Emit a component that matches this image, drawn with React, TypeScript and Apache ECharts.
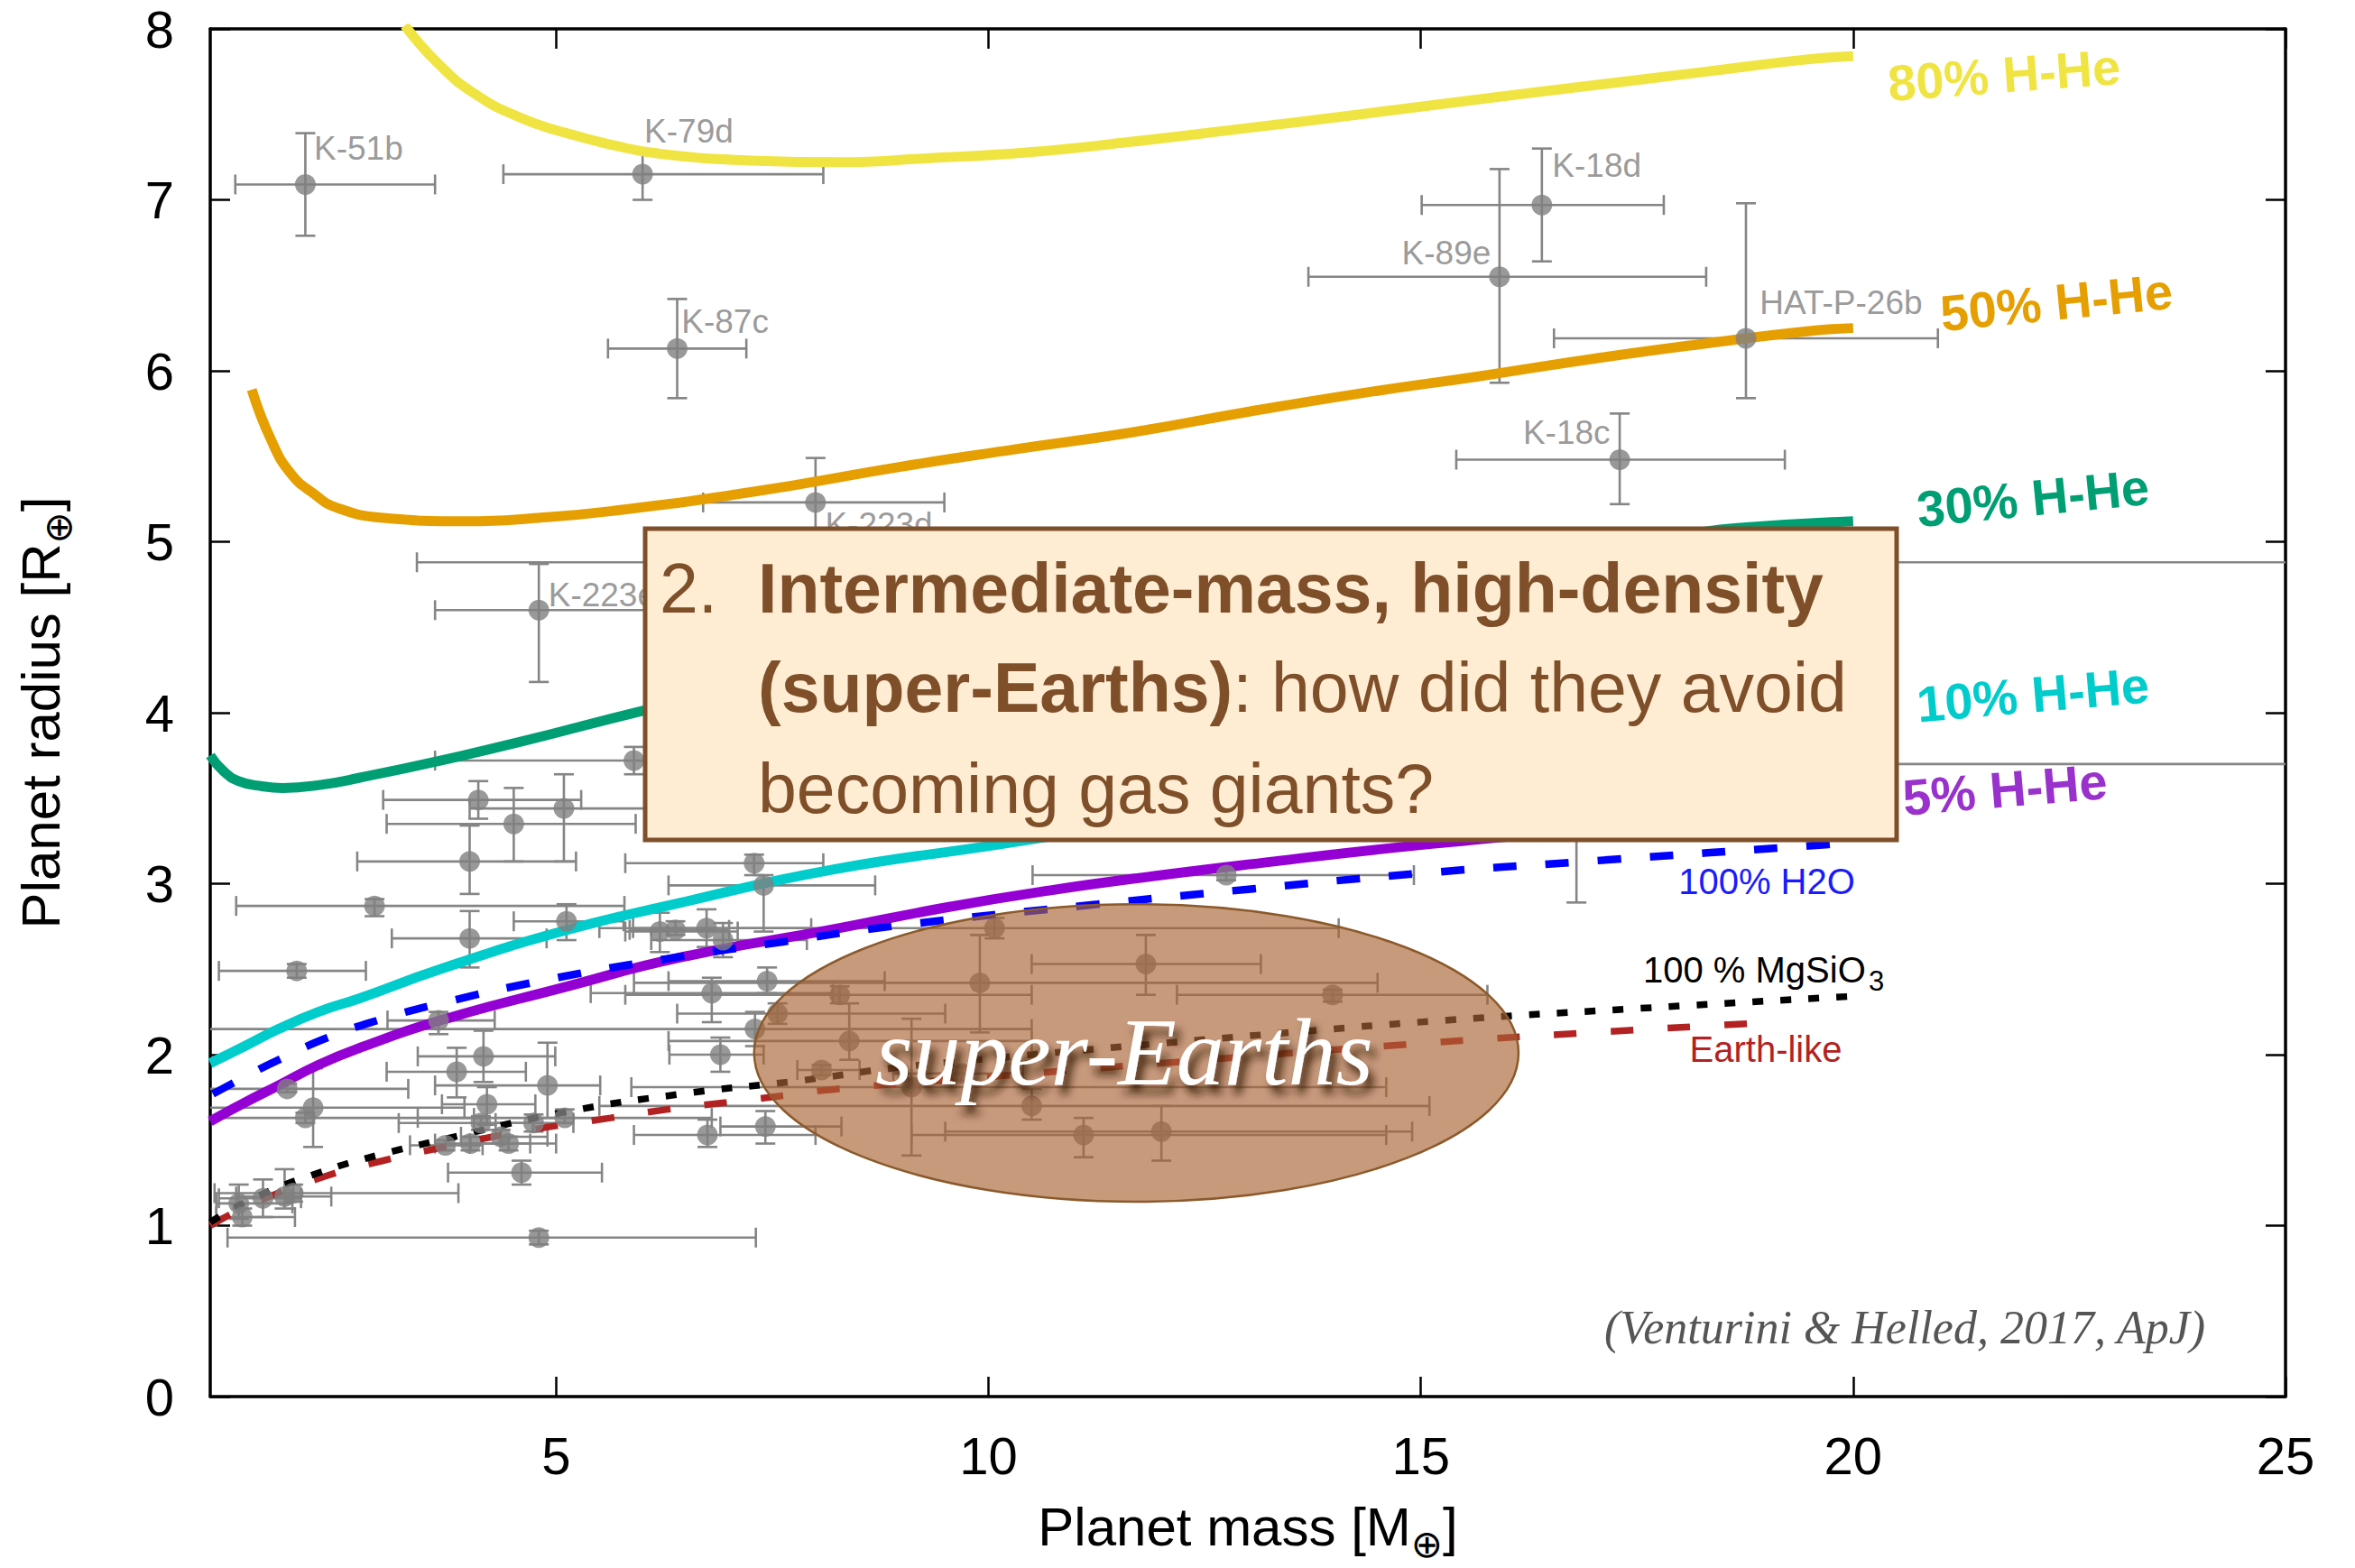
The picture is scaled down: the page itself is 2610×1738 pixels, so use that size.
import React, { useEffect, useRef } from "react";
import * as echarts from "echarts";

const FONT = "'Liberation Sans', 'DejaVu Sans', Arial, sans-serif";
const SERIF = "'Liberation Serif', 'DejaVu Serif', serif";

const xTickValues = [5, 10, 15, 20, 25];

// Model mass-radius curves: [mass (M_earth), radius (R_earth)]
const hhe80: [number, number][] = [
  [3.25, 8.02], [3.63, 7.8], [4.06, 7.62], [4.59, 7.48], [5.12, 7.39], [5.66, 7.32],
  [6.19, 7.27], [7.25, 7.23], [8.32, 7.22], [9.2, 7.24], [10.5, 7.28], [11.66, 7.34],
  [13.0, 7.42], [14.3, 7.5], [15.7, 7.59], [17.0, 7.67], [18.3, 7.75], [19.44, 7.82], [20.0, 7.84],
];
const hhe50: [number, number][] = [
  [1.48, 5.89], [1.7, 5.6], [1.93, 5.4], [2.2, 5.28], [2.46, 5.2], [3.0, 5.14], [3.95, 5.12],
  [4.8, 5.14], [5.65, 5.18], [7.25, 5.29], [9.0, 5.44], [10.3, 5.54], [11.66, 5.64], [13.0, 5.76],
  [14.33, 5.87], [15.7, 5.97], [16.99, 6.07], [18.3, 6.16], [19.44, 6.23], [20.0, 6.25],
];
const hhe30: [number, number][] = [
  [1.0, 3.75], [1.15, 3.66], [1.33, 3.6], [1.6, 3.57], [1.84, 3.56], [2.3, 3.58], [2.73, 3.62],
  [3.66, 3.72], [4.59, 3.83], [5.99, 4.01], [8.0, 4.25], [10.0, 4.45], [12.0, 4.62], [14.0, 4.78],
  [16.0, 4.92], [18.0, 5.04], [18.66, 5.08], [20.0, 5.12],
];
const hhe10: [number, number][] = [
  [1.0, 1.95], [1.4, 2.05], [1.79, 2.15], [2.25, 2.25], [2.73, 2.33], [3.66, 2.5], [5.06, 2.72],
  [6.45, 2.89], [8.17, 3.08], [10.13, 3.23], [12.0, 3.38], [14.0, 3.52], [16.0, 3.65], [18.0, 3.77], [20.0, 3.88],
];
const hhe5: [number, number][] = [
  [1.0, 1.61], [1.4, 1.72], [1.79, 1.82], [2.25, 1.94], [2.73, 2.04], [3.66, 2.2], [5.06, 2.39],
  [6.45, 2.57], [8.17, 2.73], [9.5, 2.86], [10.7, 2.96], [12.0, 3.05], [13.3, 3.13], [14.5, 3.2],
  [15.9, 3.27], [17.5, 3.35], [20.0, 3.46],
];
const water100: [number, number][] = [
  [1.03, 1.77], [1.4, 1.87], [1.75, 1.96], [2.36, 2.1], [3.0, 2.21], [3.66, 2.3], [4.91, 2.44],
  [6.27, 2.56], [7.62, 2.66], [8.87, 2.75], [11.26, 2.88], [13.06, 2.97], [14.98, 3.06],
  [16.9, 3.13], [19.72, 3.23], [20.0, 3.24],
];
const mgsio3: [number, number][] = [
  [1.0, 1.02], [1.5, 1.16], [2.26, 1.31], [3.0, 1.42], [3.66, 1.5], [5.06, 1.66], [6.45, 1.77],
  [7.85, 1.85], [8.87, 1.92], [10.3, 1.99], [11.86, 2.06], [13.5, 2.13], [15.26, 2.2],
  [17.5, 2.27], [19.94, 2.34],
];
const earthLike: [number, number][] = [
  [1.0, 1.0], [1.5, 1.13], [2.34, 1.29], [3.0, 1.38], [3.61, 1.45], [4.6, 1.55], [5.63, 1.63],
  [6.29, 1.68], [6.97, 1.72], [7.63, 1.76], [8.26, 1.8], [10.0, 1.87], [12.0, 1.95],
  [14.85, 2.06], [17.0, 2.13], [19.1, 2.19],
];

// Planets: [mass, radius, massLow, massHigh, radiusLow, radiusHigh]
const namedPlanets: number[][] = [
  [2.1, 7.09, 1.29, 3.6, 6.79, 7.39],      // K-51b
  [6.0, 7.15, 4.39, 8.09, 7.0, 7.28],      // K-79d
  [6.4, 6.13, 5.6, 7.2, 5.84, 6.42],       // K-87c
  [8.0, 5.23, 6.7, 9.49, 4.95, 5.49],      // K-223d
  [4.8, 4.6, 3.6, 6.3, 4.18, 4.87],        // K-223e
  [16.4, 6.97, 15.01, 17.81, 6.64, 7.3],   // K-18d
  [15.91, 6.55, 13.7, 18.3, 5.93, 7.18],   // K-89e
  [18.76, 6.19, 16.54, 20.98, 5.84, 6.98], // HAT-P-26b
  [17.3, 5.48, 15.41, 19.21, 5.22, 5.75],  // K-18c
];
const otherPlanets: number[][] = [
  [16.8, 3.7, 10.0, 26.0, 2.89, 4.5],
  [13.0, 4.88, 3.39, 26.0, 4.7, 5.05],
  [5.9, 3.72, 3.6, 8.5, 3.64, 3.8],
  [4.1, 3.49, 3.0, 5.29, 3.38, 3.6],
  [5.09, 3.44, 4.0, 6.03, 3.13, 3.64],
  [4.51, 3.35, 3.04, 5.92, 3.13, 3.56],
  [4.0, 3.13, 2.7, 5.23, 2.94, 3.34],
  [7.29, 3.12, 5.8, 8.09, 3.05, 3.17],
  [2.9, 2.87, 1.3, 5.79, 2.81, 2.91],
  [7.4, 2.99, 6.3, 8.69, 2.72, 3.05],
  [4.0, 2.68, 3.1, 4.89, 2.51, 2.84],
  [5.12, 2.78, 4.51, 5.78, 2.67, 2.88],
  [2.0, 2.49, 1.1, 2.8, 2.45, 2.53],
  [6.2, 2.72, 5.8, 7.1, 2.6, 2.83],
  [6.38, 2.73, 5.85, 7.0, 2.7, 2.78],
  [6.74, 2.74, 5.89, 7.95, 2.63, 2.85],
  [6.93, 2.67, 6.1, 7.9, 2.57, 2.77],
  [3.64, 2.2, 3.05, 4.29, 2.12, 2.25],
  [4.16, 1.99, 3.4, 4.99, 1.84, 2.14],
  [3.85, 1.9, 3.04, 4.65, 1.75, 2.04],
  [4.9, 1.82, 3.6, 5.51, 1.63, 2.07],
  [1.89, 1.8, 0.9, 3.29, 1.78, 1.83],
  [2.19, 1.69, 0.9, 3.94, 1.46, 1.92],
  [2.1, 1.63, 0.9, 4.05, 1.6, 1.66],
  [4.2, 1.71, 3.68, 4.76, 1.59, 1.81],
  [4.13, 1.6, 3.18, 4.73, 1.56, 1.64],
  [5.1, 1.63, 3.4, 6.8, 1.6, 1.68],
  [4.74, 1.6, 4.3, 5.2, 1.55, 1.65],
  [3.72, 1.47, 3.31, 4.15, 1.44, 1.5],
  [4.01, 1.48, 3.6, 4.7, 1.44, 1.52],
  [4.36, 1.52, 3.9, 4.9, 1.48, 1.56],
  [4.45, 1.48, 4.0, 5.0, 1.44, 1.52],
  [4.6, 1.31, 3.75, 5.53, 1.24, 1.38],
  [4.8, 0.93, 1.2, 7.31, 0.89, 0.97],
  [1.33, 1.13, 1.07, 1.95, 1.04, 1.24],
  [1.37, 1.05, 1.07, 1.98, 1.0, 1.1],
  [1.61, 1.16, 1.1, 2.05, 1.05, 1.27],
  [1.86, 1.17, 1.3, 2.4, 1.1, 1.33],
  [1.96, 1.19, 1.05, 3.87, 1.14, 1.24],
  [6.8, 2.36, 5.4, 8.2, 2.19, 2.45],
  [7.44, 2.43, 6.3, 8.8, 2.36, 2.51],
  [7.56, 2.24, 6.4, 9.5, 2.18, 2.3],
  [7.3, 2.15, 0.9, 10.5, 2.05, 2.25],
  [6.9, 2.0, 6.31, 7.4, 1.9, 2.1],
  [6.75, 1.53, 5.9, 8.0, 1.46, 1.62],
  [7.42, 1.58, 6.9, 8.3, 1.48, 1.67],
  [8.07, 1.91, 7.79, 8.51, 1.88, 1.94],
  [10.07, 2.74, 5.5, 14.05, 2.68, 2.8],
  [11.82, 2.53, 10.5, 13.15, 2.35, 2.7],
  [9.9, 2.42, 5.9, 14.5, 2.13, 2.7],
  [13.98, 2.35, 12.18, 15.77, 2.31, 2.38],
  [8.28, 2.35, 5.8, 10.5, 2.3, 2.4],
  [8.39, 2.08, 6.3, 10.5, 1.97, 2.3],
  [9.11, 1.81, 5.87, 14.6, 1.41, 2.21],
  [9.69, 1.89, 8.9, 10.4, 1.85, 1.93],
  [10.5, 1.7, 5.5, 15.1, 1.62, 1.8],
  [11.1, 1.53, 9.11, 14.6, 1.4, 1.63],
  [12.0, 1.55, 9.5, 14.9, 1.38, 1.7],
  [12.75, 3.05, 10.51, 14.92, 3.02, 3.08],
];

// Planet name labels: [mass, radius, text, side]
const planetLabels: [number, number, string, "left" | "right"][] = [
  [2.2, 7.3, "K-51b", "right"],
  [6.02, 7.4, "K-79d", "right"],
  [6.45, 6.29, "K-87c", "right"],
  [8.11, 5.1, "K-223d", "right"],
  [4.91, 4.69, "K-223e", "right"],
  [16.52, 7.2, "K-18d", "right"],
  [15.81, 6.69, "K-89e", "left"],
  [18.92, 6.4, "HAT-P-26b", "right"],
  [17.19, 5.64, "K-18c", "left"],
];

// super-Earth region: centre, half-width, half-height (data units)
const regionCenter = [11.71, 2.01];
const regionHalf = [4.42, 0.87];

export default function App() {
  const ref = useRef<HTMLDivElement>(null);

  useEffect(() => {
    const chart = echarts.init(ref.current!, null, { renderer: "svg" });
    const allPlanets = [...namedPlanets, ...otherPlanets];

    const lineSeries = (name: string, data: [number, number][], color: string, width: number, type: any) => ({
      type: "line",
      name,
      data,
      showSymbol: false,
      symbol: "none",
      smooth: 0.5,
      silent: true,
      z: 2,
      lineStyle: { color, width, type, cap: "butt" },
    });

    const axisCommon = {
      type: "value",
      splitLine: { show: false },
      axisLine: { onZero: false, lineStyle: { color: "#000", width: 3.5 } },
    };

    const option: any = {
      animation: false,
      backgroundColor: "#fff",
      grid: { left: 233, right: 77, top: 32, bottom: 190, containLabel: false, outerBoundsMode: "none" },
      xAxis: [
        {
          ...axisCommon,
          min: 1,
          max: 25,
          position: "bottom",
          axisTick: { inside: true, length: 22, customValues: xTickValues, lineStyle: { color: "#000", width: 2.5 } },
          axisLabel: { customValues: xTickValues, margin: 36, fontSize: 58, fontFamily: FONT, color: "#000" },
          name: "Planet mass [M{s|⊕}]",
          nameLocation: "middle",
          nameGap: 104,
          nameMoveOverlap: false,
          nameTextStyle: {
            fontSize: 60, fontFamily: FONT, color: "#000", lineHeight: 80,
            rich: { s: { fontSize: 42, fontFamily: FONT, color: "#000", verticalAlign: "bottom", lineHeight: 40 } },
          },
        },
        {
          ...axisCommon,
          min: 1,
          max: 25,
          position: "top",
          axisTick: { inside: true, length: 22, customValues: xTickValues, lineStyle: { color: "#000", width: 2.5 } },
          axisLabel: { show: false },
        },
      ],
      yAxis: [
        {
          ...axisCommon,
          min: 0,
          max: 8,
          interval: 1,
          position: "left",
          axisTick: { inside: true, length: 22, lineStyle: { color: "#000", width: 2.5 } },
          axisLabel: { margin: 40, fontSize: 58, fontFamily: FONT, color: "#000" },
          name: "Planet radius [R{s|⊕}]",
          nameLocation: "middle",
          nameGap: 148,
          nameRotate: 90,
          nameMoveOverlap: false,
          nameTextStyle: {
            fontSize: 60, fontFamily: FONT, color: "#000", lineHeight: 80,
            rich: { s: { fontSize: 42, fontFamily: FONT, color: "#000", verticalAlign: "bottom", lineHeight: 40 } },
          },
        },
        {
          ...axisCommon,
          min: 0,
          max: 8,
          interval: 1,
          position: "right",
          axisTick: { inside: true, length: 22, lineStyle: { color: "#000", width: 2.5 } },
          axisLabel: { show: false },
        },
      ],
      series: [
        {
          type: "custom",
          name: "error bars",
          silent: true,
          clip: true,
          z: 1,
          encode: { x: [0, 2, 3], y: [1, 4, 5] },
          data: allPlanets,
          renderItem: (_params: any, api: any) => {
            const x = api.value(0), y = api.value(1);
            const pl = api.coord([api.value(2), y]);
            const pr = api.coord([api.value(3), y]);
            const pb = api.coord([x, api.value(4)]);
            const pt = api.coord([x, api.value(5)]);
            const c = 11;
            const style = { stroke: "#858585", lineWidth: 2.6, fill: null };
            const ln = (x1: number, y1: number, x2: number, y2: number) => ({ type: "line", shape: { x1, y1, x2, y2 }, style });
            return {
              type: "group",
              children: [
                ln(pl[0], pl[1], pr[0], pr[1]),
                ln(pl[0], pl[1] - c, pl[0], pl[1] + c),
                ln(pr[0], pr[1] - c, pr[0], pr[1] + c),
                ln(pb[0], pb[1], pt[0], pt[1]),
                ln(pb[0] - c, pb[1], pb[0] + c, pb[1]),
                ln(pt[0] - c, pt[1], pt[0] + c, pt[1]),
              ],
            };
          },
        },
        lineSeries("80% H-He", hhe80, "#f0e442", 11, "solid"),
        lineSeries("50% H-He", hhe50, "#e69f00", 11, "solid"),
        lineSeries("30% H-He", hhe30, "#009e73", 11, "solid"),
        lineSeries("10% H-He", hhe10, "#00cccc", 11, "solid"),
        lineSeries("5% H-He", hhe5, "#9400d3", 11, "solid"),
        lineSeries("100% H2O", water100, "#0000ff", 8.5, [26, 32]),
        lineSeries("Earth-like", earthLike, "#b22222", 7.5, [25, 38]),
        lineSeries("100 % MgSiO3", mgsio3, "#000000", 7.5, [12, 19]),
        {
          type: "scatter",
          name: "planets",
          data: allPlanets.map((p) => [p[0], p[1]]),
          symbol: "circle",
          symbolSize: 23,
          itemStyle: { color: "#808080" },
          silent: true,
          z: 3,
        },
        {
          type: "scatter",
          name: "planet labels",
          data: planetLabels.map((l) => ({
            value: [l[0], l[1]],
            name: l[2],
            label: { position: l[3] },
          })),
          symbolSize: 0,
          silent: true,
          z: 3,
          label: {
            show: true,
            distance: 0,
            formatter: (p: any) => p.name,
            fontSize: 37,
            fontFamily: FONT,
            color: "#808080",
          },
        },
      ],
    };

    chart.setOption(option);

    const toPx = (v: number[]) => chart.convertToPixel({ xAxisIndex: 0, yAxisIndex: 0 }, v) as number[];
    const c = toPx(regionCenter);
    const rx = toPx([regionCenter[0] + regionHalf[0], regionCenter[1]])[0] - c[0];
    const ry = c[1] - toPx([regionCenter[0], regionCenter[1] + regionHalf[1]])[1];

    const boxColor = "#7f4f2a";
    const curveLabel = (text: string, x: number, y: number, rot: number, color: string) => ({
      type: "text",
      x,
      y,
      rotation: rot,
      z: 40,
      style: { text, fill: color, font: `bold 56px ${FONT}`, align: "center", verticalAlign: "middle" },
    });

    chart.setOption({
      graphic: [
        {
          type: "ellipse",
          z: 50,
          shape: { cx: c[0], cy: c[1], rx, ry },
          style: { fill: "rgba(169,100,53,0.65)", stroke: "#8b5a2b", lineWidth: 2.5 },
        },
        {
          type: "text",
          x: 1246,
          y: 1166,
          z: 51,
          style: {
            text: "super-Earths",
            fill: "#ffffff",
            font: `italic 106px ${SERIF}`,
            align: "center",
            verticalAlign: "middle",
            textShadowColor: "rgba(50,25,5,0.85)",
            textShadowBlur: 10,
            textShadowOffsetX: 6,
            textShadowOffsetY: 10,
          },
        },
        {
          type: "rect",
          z: 60,
          shape: { x: 715, y: 586, width: 1387, height: 345 },
          style: { fill: "#feedd3", stroke: boxColor, lineWidth: 5 },
        },
        {
          type: "text",
          x: 731,
          y: 652,
          z: 61,
          style: { text: "2.", fill: boxColor, font: `77px ${FONT}`, align: "left", verticalAlign: "middle" },
        },
        {
          type: "text",
          x: 840,
          y: 652,
          z: 61,
          style: { text: "Intermediate-mass, high-density", fill: boxColor, font: `bold 77px ${FONT}`, align: "left", verticalAlign: "middle" },
        },
        {
          type: "text",
          x: 840,
          y: 762,
          z: 61,
          style: {
            text: "{b|(super-Earths)}{r|: how did they avoid}",
            align: "left",
            verticalAlign: "middle",
            rich: {
              b: { fill: boxColor, color: boxColor, fontWeight: "bold", fontSize: 77, fontFamily: FONT },
              r: { fill: boxColor, color: boxColor, fontWeight: "normal", fontSize: 77, fontFamily: FONT },
            },
          },
        },
        {
          type: "text",
          x: 840,
          y: 874,
          z: 61,
          style: { text: "becoming gas giants?", fill: boxColor, font: `77px ${FONT}`, align: "left", verticalAlign: "middle" },
        },
        curveLabel("80% H-He", 2221, 83, 0.074, "#f0e442"),
        curveLabel("50% H-He", 2279, 335, 0.099, "#e69f00"),
        curveLabel("30% H-He", 2253, 552, 0.099, "#009e73"),
        curveLabel("10% H-He", 2253, 770, 0.085, "#00cccc"),
        curveLabel("5% H-He", 2222, 875, 0.084, "#9932cc"),
        {
          type: "text",
          x: 1958,
          y: 977,
          z: 40,
          style: { text: "100% H2O", fill: "#1a1aff", font: `40px ${FONT}`, align: "center", verticalAlign: "middle" },
        },
        {
          type: "text",
          x: 1821,
          y: 1075,
          z: 40,
          style: { text: "100 % MgSiO", fill: "#000", font: `40px ${FONT}`, align: "left", verticalAlign: "middle" },
        },
        {
          type: "text",
          x: 2071,
          y: 1087,
          z: 40,
          style: { text: "3", fill: "#000", font: `31px ${FONT}`, align: "left", verticalAlign: "middle" },
        },
        {
          type: "text",
          x: 1957,
          y: 1163,
          z: 40,
          style: { text: "Earth-like", fill: "#b22222", font: `40px ${FONT}`, align: "center", verticalAlign: "middle" },
        },
        {
          type: "text",
          x: 2111,
          y: 1471,
          z: 40,
          style: { text: "(Venturini & Helled, 2017, ApJ)", fill: "#555555", font: `italic 52px ${SERIF}`, align: "center", verticalAlign: "middle" },
        },
      ],
    });

    return () => chart.dispose();
  }, []);

  return (
    <div
      ref={ref}
      style={{ position: "fixed", left: 0, top: 0, width: 2610, height: 1738, background: "#fff" }}
    />
  );
}
